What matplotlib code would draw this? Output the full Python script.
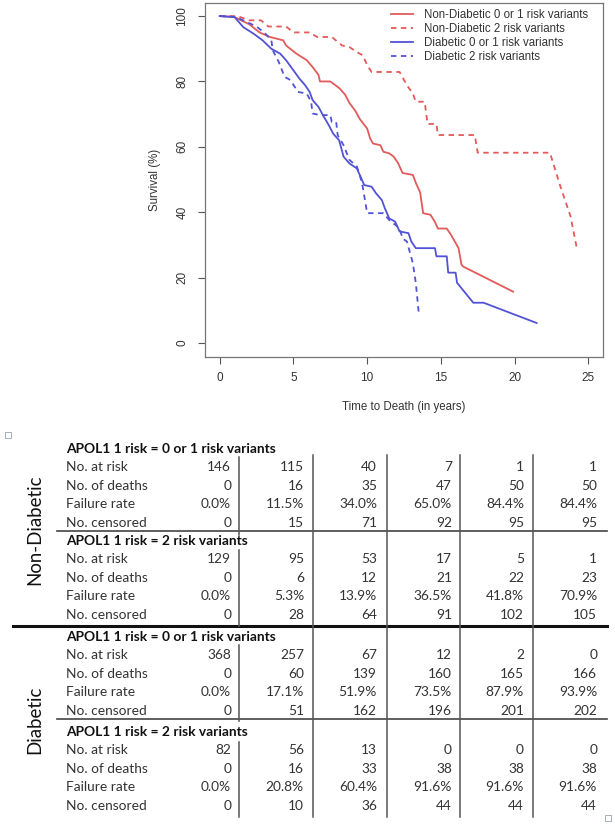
import matplotlib
matplotlib.use("Agg")
import matplotlib.pyplot as plt
from matplotlib.lines import Line2D
from matplotlib.patches import Rectangle

# Kaplan-Meier style curves, time in years, survival in %
nd01_t = [0, 1.0, 2.0, 2.7, 3.4, 4.3, 4.5, 5.2, 5.9, 6.3, 6.7, 6.8, 7.5, 7.8, 8.1, 8.5, 8.8, 9.2, 9.5,
          10.0, 10.2, 10.4, 10.9, 11.1, 11.5, 11.8, 12.1, 12.4, 13.1, 13.3, 13.6, 13.7, 13.8, 14.3,
          14.6, 14.8, 15.4, 15.7, 16.2, 16.4, 16.5, 19.9]
nd01_s = [100, 99.7, 97.5, 95, 93.6, 92.6, 91, 88.5, 86.5, 84.4, 82, 80, 80, 79, 78, 76, 73.4, 71, 68.5,
          65.6, 62.6, 61, 60.5, 58.5, 58, 57, 55, 52, 51.4, 49, 46, 42.7, 39.7, 39.2,
          37, 35, 35, 33, 29, 24, 23.4, 15.7]

nd2_t = [0, 1.2, 2.0, 2.8, 3.3, 4.5, 5.0, 6.1, 6.6, 7.6, 8.3, 8.8, 9.3, 9.7, 10.0, 10.3, 12.2, 12.7,
         13.1, 13.3, 13.9, 14.1, 14.7, 14.8, 17.3, 17.5, 22.4, 23.1, 23.8, 24.2]
nd2_s = [100, 100, 98.7, 98.7, 96.8, 96.8, 95, 95, 93.6, 93.6, 91, 90.5, 89, 88, 85, 82.9, 82.9, 78.8,
         76.3, 73.8, 73.8, 67, 67, 63.6, 63.6, 58.2, 58.2, 48, 38.7, 29.5]

d01_t = [0, 1.0, 1.6, 2.3, 2.9, 3.5, 4.1, 4.5, 5.0, 5.4, 5.8, 6.1, 6.3, 6.7, 7.0, 7.4, 7.7, 8.1, 8.4,
         8.8, 9.3, 9.6, 9.8, 10.3, 10.6, 11.0, 11.2, 11.5, 11.9, 12.2, 12.8, 13.0, 13.3, 14.6, 14.7,
         15.4, 15.5, 16.0, 16.1, 17.2, 17.9, 21.5]
d01_s = [100, 99.7, 96.6, 94.6, 92.6, 90, 88.5, 86.5, 83.4, 80.9, 78.8, 76.8, 74.3, 72.2, 69.7, 66.6, 64, 62, 57,
         54.9, 53.4, 50.4, 48.3, 47.8, 45.8, 43.7, 41.2, 38.1, 37.1, 34.1, 33.6, 31, 29, 29, 26.5,
         26.5, 21.5, 21.5, 18.4, 12.3, 12.3, 6.1]

d2_t = [0, 1.1, 2.5, 3.1, 3.5, 3.6, 4.0, 4.4, 4.8, 5.3, 5.9, 6.2, 6.3, 6.8, 7.5, 7.6, 7.9, 8.0, 8.4,
        8.8, 9.3, 9.5, 9.7, 10.0, 11.1, 11.5, 12.2, 12.4, 12.7, 13.1, 13.3, 13.5]
d2_s = [100, 99.7, 96.8, 94.6, 92.6, 89.5, 86, 81.4, 80.4, 76.8, 76.3, 73.8, 70.2, 69.7, 69.7, 67.6, 67.6, 63.6, 60.5,
        56, 54, 51.4, 47.8, 39.7, 39.7, 37.6, 35.1, 32, 31, 24.4, 18.4, 9.2]

curve_labels = ["Non-Diabetic 0 or 1 risk variants", "Non-Diabetic 2 risk variants",
                "Diabetic 0 or 1 risk variants", "Diabetic 2 risk variants"]

# table below the plot
row_names = ["No. at risk", "No. of deaths", "Failure rate", "No. censored"]
group_titles = ["APOL1 1 risk = 0 or 1 risk variants", "APOL1 1 risk = 2 risk variants"]
section_names = ["Non-Diabetic", "Diabetic"]

nd01_risk = [146, 115, 40, 7, 1, 1]
nd01_deaths = [0, 16, 35, 47, 50, 50]
nd01_fail = [0.0, 11.5, 34.0, 65.0, 84.4, 84.4]
nd01_cens = [0, 15, 71, 92, 95, 95]

nd2_risk = [129, 95, 53, 17, 5, 1]
nd2_deaths = [0, 6, 12, 21, 22, 23]
nd2_fail = [0.0, 5.3, 13.9, 36.5, 41.8, 70.9]
nd2_cens = [0, 28, 64, 91, 102, 105]

d01_risk = [368, 257, 67, 12, 2, 0]
d01_deaths = [0, 60, 139, 160, 165, 166]
d01_fail = [0.0, 17.1, 51.9, 73.5, 87.9, 93.9]
d01_cens = [0, 51, 162, 196, 201, 202]

d2_risk = [82, 56, 13, 0, 0, 0]
d2_deaths = [0, 16, 33, 38, 38, 38]
d2_fail = [0.0, 20.8, 60.4, 91.6, 91.6, 91.6]
d2_cens = [0, 10, 36, 44, 44, 44]

W, H = 615, 825
RED = "#e25a5a"
BLUE = "#5252d6"
GREY = "#333333"


def fx(x):
    return x / W


def fy(y):
    return 1 - y / H


fig = plt.figure(figsize=(6.15, 8.25), dpi=100)

# ---- survival plot ----
ax = fig.add_axes([fx(205), fy(357), fx(603) - fx(205), fy(3) - fy(357)])
ax.plot(nd01_t, nd01_s, color=RED, lw=1.3, label=curve_labels[0])
ax.plot(nd2_t, nd2_s, color=RED, lw=1.3, dashes=(3, 2.5), label=curve_labels[1])
ax.plot(d01_t, d01_s, color=BLUE, lw=1.3, label=curve_labels[2])
ax.plot(d2_t, d2_s, color=BLUE, lw=1.3, dashes=(3, 2.5), label=curve_labels[3])

ax.set_xlim(-1.0, 26.0)
ax.set_ylim(-4.3, 104)
ax.set_xticks([0, 5, 10, 15, 20, 25])
ax.set_yticks([0, 20, 40, 60, 80, 100])
ax.tick_params(direction="out", length=5, width=0.8, colors="#555555", labelcolor=GREY,
               labelsize=8.5)
ax.tick_params(axis="x", pad=6)
ax.tick_params(axis="y", pad=7)
for lab in ax.get_yticklabels():
    lab.set_rotation(90)
    lab.set_va("center")
for sp in ax.spines.values():
    sp.set_color("#777777")
    sp.set_linewidth(0.9)
for lab in ax.get_xticklabels() + ax.get_yticklabels():
    lab.set_family("Liberation Sans")

leg = ax.legend(loc="upper left", bbox_to_anchor=(fx(391), fy(9)), bbox_transform=fig.transFigure,
                frameon=False, borderpad=0, borderaxespad=0, handlelength=1.9, handletextpad=1.0,
                labelspacing=0.17, prop={"family": "Liberation Sans", "size": 8.3})
for t in leg.get_texts():
    t.set_color(GREY)

fig.text(fx(404), fy(407), "Time to Death (in years)", ha="center", va="center",
         family="Liberation Sans", size=8.3, color=GREY)
fig.text(fx(155), fy(180), "Survival (%)", ha="center", va="center", rotation=90,
         family="Liberation Sans", size=8.3, color=GREY)

# ---- table ----
TFONT = "Lato"
TSIZE = 9.9
col_right = [231, 304, 377, 452, 524, 597]
col_lines = [239, 313, 387, 460, 533]
header_y = [449, 541, 637, 732]
row_step = 18.7

blocks = [
    (nd01_risk, nd01_deaths, nd01_fail, nd01_cens),
    (nd2_risk, nd2_deaths, nd2_fail, nd2_cens),
    (d01_risk, d01_deaths, d01_fail, d01_cens),
    (d2_risk, d2_deaths, d2_fail, d2_cens),
]

for b, (risk, deaths, fail, cens) in enumerate(blocks):
    hy = header_y[b]
    fig.text(fx(66), fy(hy), group_titles[b % 2], ha="left", va="center", family=TFONT,
             size=TSIZE, weight="bold", color="#111111")
    rows = [[str(v) for v in risk], [str(v) for v in deaths],
            ["%.1f%%" % v for v in fail], [str(v) for v in cens]]
    for r, name in enumerate(row_names):
        ry = hy + 18 + r * row_step
        fig.text(fx(66), fy(ry), name, ha="left", va="center", family=TFONT, size=TSIZE,
                 color=GREY)
        for c, val in enumerate(rows[r]):
            fig.text(fx(col_right[c]), fy(ry), val, ha="right", va="center", family=TFONT,
                     size=TSIZE, color=GREY)

fig.text(fx(35), fy(530), section_names[0], ha="center", va="center", rotation=90,
         family=TFONT, size=13.4, color="#111111")
fig.text(fx(35), fy(720), section_names[1], ha="center", va="center", rotation=90,
         family=TFONT, size=13.4, color="#111111")


def hline(y, x0, x1, lw, color):
    fig.add_artist(Line2D([fx(x0), fx(x1)], [fy(y), fy(y)], lw=lw, color=color,
                          transform=fig.transFigure))


def vline(x, y0, y1):
    fig.add_artist(Line2D([fx(x), fx(x)], [fy(y0), fy(y1)], lw=1.1, color="#555555",
                          transform=fig.transFigure))


hline(531, 57, 607, 1.2, "#444444")
hline(719, 57, 607, 1.2, "#444444")
hline(626, 13, 607, 2.2, "#111111")

# first column separator breaks at the group titles
for y0, y1 in [(457, 535), (550, 626), (645, 721), (742, 817)]:
    vline(col_lines[0], y0, y1)
for x in col_lines[1:]:
    vline(x, 455, 817)

# little placeholder marks from the source page
for (x, y) in [(5, 432), (605, 815)]:
    fig.add_artist(Rectangle((fx(x), fy(y + 6)), fx(6), 6 / H, fill=False, lw=0.6,
                             edgecolor="#9aa0b0", transform=fig.transFigure))

fig.savefig("out.png", dpi=100)
